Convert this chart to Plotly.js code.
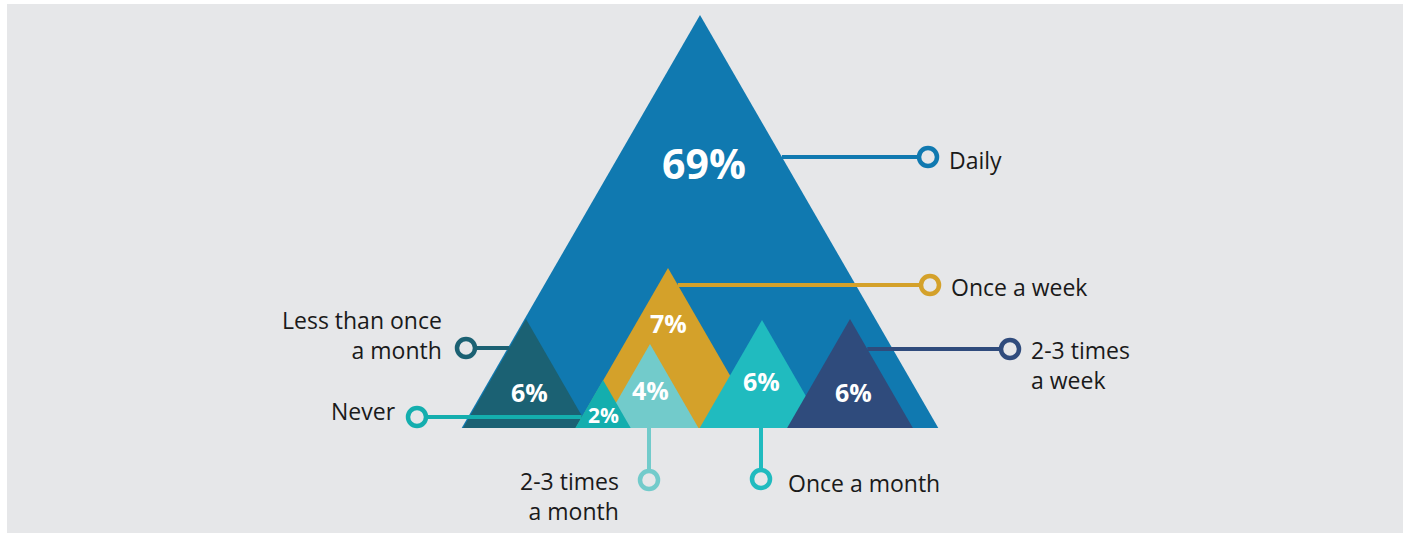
<!DOCTYPE html>
<html><head><meta charset="utf-8">
<script src="https://cdn.plot.ly/plotly-3.0.1.min.js"></script>
<style>html,body{margin:0;padding:0;background:#fff}#chart{width:1407px;height:533px}</style>
</head><body><div id="chart"></div>
<script>
// ---- data ----
const categories = ["Daily", "Less than once a month", "Once a week", "2-3 times a month", "Never", "Once a month", "2-3 times a week"];
const labelLines = [["Daily"], ["Less than once", "a month"], ["Once a week"], ["2-3 times", "a month"], ["Never"], ["Once a month"], ["2-3 times", "a week"]];
const values = [69, 6, 7, 4, 2, 6, 6];

// ---- styles ----
const colors = ["#1079b0", "#1b6173", "#d4a12a", "#72cbcb", "#14aeae", "#20bbbf", "#2f4b7c"];
const bg = "#e6e7e9";

// ---- layout geometry (pixel space, y downward) ----
const apexX = [700, 526, 668, 650, 603, 762, 850];
const apexY = [15, 319, 268, 344, 380, 320, 319];
const baseY = 428;
const slope = 0.577;
const pctPos = [[704, 163], [529, 392], [668, 323], [650, 390], [603, 415], [761, 381], [853, 392]];
const pctSize = [41, 25, 25, 25, 21, 25, 25];
// connector: [type, circleX, circleY]
const conn = [["right", 928, 157], ["left", 466, 348], ["right", 930, 285], ["down", 649, 480], ["left", 417, 417], ["down", 761, 479], ["right", 1010, 349]];
// label anchor: [x, y, xanchor]
const labelPos = [[947, 160, "left"], [444, 335, "right"], [949, 287, "left"], [621, 496, "right"], [398, 411, "right"], [786, 483, "left"], [1029, 365, "left"]];

const traces = [];
categories.forEach((c, i) => {
  const h = baseY - apexY[i];
  const hw = h * slope;
  traces.push({
    type: "scatter", mode: "lines", fill: "toself", fillcolor: colors[i],
    x: [apexX[i] - hw, apexX[i], apexX[i] + hw, apexX[i] - hw],
    y: [baseY, apexY[i], baseY, baseY],
    line: {width: 0, color: colors[i]}, hoverinfo: "text", text: c + ": " + values[i] + "%",
    showlegend: false
  });
});
// connectors
categories.forEach((c, i) => {
  const [t, cx, cy] = conn[i];
  let xs, ys;
  if (t === "right") { const ex = apexX[i] + (cy - apexY[i]) * slope; xs = [ex, cx]; ys = [cy, cy]; }
  else if (t === "left") { const ex = apexX[i] - (cy - apexY[i]) * slope; xs = [cx, ex]; ys = [cy, cy]; }
  else { xs = [cx, cx]; ys = [baseY, cy]; }
  traces.push({type: "scatter", mode: "lines", x: xs, y: ys, line: {width: 4, color: colors[i]}, hoverinfo: "skip", showlegend: false});
});
categories.forEach((c, i) => {
  traces.push({type: "scatter", mode: "markers", x: [conn[i][1]], y: [conn[i][2]],
    marker: {size: 18, color: bg, line: {width: 4.5, color: colors[i]}}, hoverinfo: "skip", showlegend: false});
});

const annotations = [];
categories.forEach((c, i) => {
  annotations.push({x: pctPos[i][0], y: pctPos[i][1], text: values[i] + "%", showarrow: false,
    xanchor: "center", yanchor: "middle",
    font: {family: "Open Sans", size: pctSize[i], color: "#ffffff", weight: 700}});
  annotations.push({x: labelPos[i][0], y: labelPos[i][1], text: labelLines[i].join("<br>"), showarrow: false,
    xanchor: labelPos[i][2], yanchor: "middle", align: labelPos[i][2],
    font: {family: "Open Sans", size: 23, color: "#1a1a1a"}});
});

const layout = {
  width: 1407, height: 533,
  margin: {l: 0, r: 0, t: 0, b: 0},
  paper_bgcolor: "#ffffff", plot_bgcolor: "#ffffff",
  xaxis: {range: [0, 1407], visible: false, fixedrange: true},
  yaxis: {range: [533, 0], visible: false, fixedrange: true},
  shapes: [{type: "rect", xref: "x", yref: "y", x0: 7, x1: 1403, y0: 4, y1: 533, fillcolor: bg, line: {width: 0}, layer: "below"}],
  annotations: annotations,
  showlegend: false
};
Plotly.newPlot("chart", traces, layout, {displayModeBar: false, staticPlot: true});
</script></body></html>
